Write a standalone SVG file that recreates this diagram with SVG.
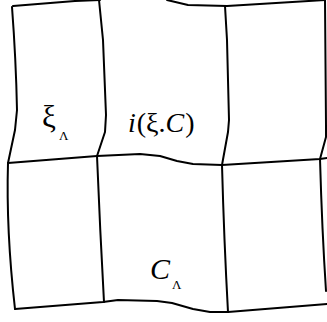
<svg xmlns="http://www.w3.org/2000/svg" width="327" height="322" viewBox="0 0 327 322">
<style>
.ln{fill:none;stroke:#000;stroke-width:2;stroke-linejoin:round;stroke-linecap:round}
.t{font-family:"Liberation Serif","Times New Roman",serif;fill:#000}
.it{font-style:italic}
</style>
<rect width="327" height="322" fill="#fff"/>
<g id="grid">
<path class="ln" d="M13,6 L75,1 L100,0"/>
<path class="ln" d="M167,0 L188,5 L227,6 L325,0"/>
<path class="ln" d="M8,163 L97,156 L140,154 L160,156 L177,161 L193,164 L222,165 L320,159 L327,158"/>
<path class="ln" d="M15,309 L103,302 L118,300 L157,301 L172,303 L193,309 L210,312 L228,312 L327,304"/>
<path class="ln" d="M12,7 Q16,60 17,110 L15,130 L8,163 Q6,230 15,309"/>
<path class="ln" d="M99,0 L103,40 L106,115 L105,132 L97,156 Q100,230 104,302"/>
<path class="ln" d="M225,6 L227,40 L229,120 L228,132 L222,165 Q224,240 228,312"/>
<path class="ln" d="M325,0 L326,125 L326,137 L320,159 Q322,230 326,291"/>
</g>
<g id="labels">
<text class="t" x="42" y="127" font-size="31">ξ</text>
<text class="t" x="59" y="140" font-size="13">Λ</text>
<text class="t" x="128" y="132" font-size="28"><tspan class="it">i</tspan><tspan dx="1">(ξ.</tspan><tspan class="it">C</tspan><tspan dx="1">)</tspan></text>
<text class="t it" x="150" y="279" font-size="30">C</text>
<text class="t" x="172" y="289" font-size="13">Λ</text>
</g>
</svg>
